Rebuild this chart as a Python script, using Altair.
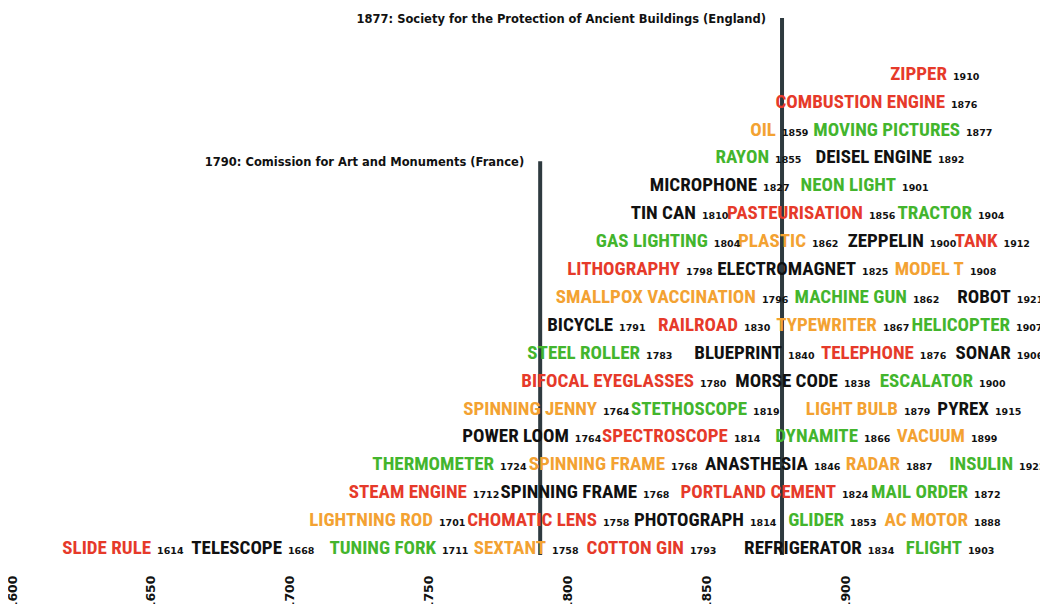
import altair as alt
import pandas as pd

# ---- data ----
# row: stacking level (0 = bottom); slot: x-scale position (years) of the gap between name and date
names = [
    "SLIDE RULE", "TELESCOPE", "TUNING FORK", "SEXTANT", "COTTON GIN", "REFRIGERATOR", "FLIGHT",
    "LIGHTNING ROD", "CHOMATIC LENS", "PHOTOGRAPH", "GLIDER", "AC MOTOR",
    "STEAM ENGINE", "SPINNING FRAME", "PORTLAND CEMENT", "MAIL ORDER",
    "THERMOMETER", "SPINNING FRAME", "ANASTHESIA", "RADAR", "INSULIN",
    "POWER LOOM", "SPECTROSCOPE", "DYNAMITE", "VACUUM",
    "SPINNING JENNY", "STETHOSCOPE", "LIGHT BULB", "PYREX",
    "BIFOCAL EYEGLASSES", "MORSE CODE", "ESCALATOR",
    "STEEL ROLLER", "BLUEPRINT", "TELEPHONE", "SONAR",
    "BICYCLE", "RAILROAD", "TYPEWRITER", "HELICOPTER",
    "SMALLPOX VACCINATION", "MACHINE GUN", "ROBOT",
    "LITHOGRAPHY", "ELECTROMAGNET", "MODEL T",
    "GAS LIGHTING", "PLASTIC", "ZEPPELIN", "TANK",
    "TIN CAN", "PASTEURISATION", "TRACTOR",
    "MICROPHONE", "NEON LIGHT",
    "RAYON", "DEISEL ENGINE",
    "OIL", "MOVING PICTURES",
    "COMBUSTION ENGINE",
    "ZIPPER",
]
years = [
    1614, 1668, 1711, 1758, 1793, 1834, 1903,
    1701, 1758, 1814, 1853, 1888,
    1712, 1768, 1824, 1872,
    1724, 1768, 1846, 1887, 1922,
    1764, 1814, 1866, 1899,
    1764, 1819, 1879, 1915,
    1780, 1838, 1900,
    1783, 1840, 1876, 1906,
    1791, 1830, 1867, 1907,
    1796, 1862, 1921,
    1798, 1825, 1908,
    1804, 1862, 1900, 1912,
    1810, 1856, 1904,
    1827, 1901,
    1855, 1892,
    1859, 1877,
    1876,
    1910,
]
rows = [
    0, 0, 0, 0, 0, 0, 0,
    1, 1, 1, 1, 1,
    2, 2, 2, 2,
    3, 3, 3, 3, 3,
    4, 4, 4, 4,
    5, 5, 5, 5,
    6, 6, 6,
    7, 7, 7, 7,
    8, 8, 8, 8,
    9, 9, 9,
    10, 10, 10,
    11, 11, 11, 11,
    12, 12, 12,
    13, 13,
    14, 14,
    15, 15,
    16,
    17,
]
kinds = [
    "red", "black", "green", "orange", "red", "black", "green",
    "orange", "red", "black", "green", "orange",
    "red", "black", "red", "green",
    "green", "orange", "black", "orange", "green",
    "black", "red", "green", "orange",
    "orange", "green", "orange", "black",
    "red", "black", "green",
    "green", "black", "red", "black",
    "black", "red", "orange", "green",
    "orange", "green", "black",
    "red", "black", "orange",
    "green", "orange", "black", "red",
    "black", "red", "green",
    "black", "green",
    "green", "black",
    "orange", "green",
    "red",
    "red",
]
slots = [
    1651.1, 1698.2, 1753.6, 1793.2, 1842.8, 1906.8, 1942.8,
    1752.5, 1811.5, 1864.4, 1900.4, 1945.0,
    1764.7, 1825.9, 1897.5, 1945.0,
    1774.5, 1836.0, 1887.4, 1920.5, 1961.2,
    1801.4, 1858.6, 1905.4, 1943.9,
    1811.5, 1865.5, 1919.8, 1952.5,
    1846.4, 1898.2, 1946.8,
    1827.0, 1878.1, 1925.5, 1960.4,
    1817.3, 1862.2, 1912.2, 1960.1,
    1868.7, 1923.0, 1960.4,
    1841.4, 1904.7, 1943.5,
    1851.4, 1886.7, 1929.1, 1955.6,
    1847.1, 1907.2, 1946.4,
    1869.1, 1919.1,
    1873.4, 1932.0,
    1875.9, 1942.1,
    1936.7,
    1937.4,
]

event_years = [1790, 1877]
event_labels = [
    "1790: Comission for Art and Monuments (France)",
    "1877: Society for the Protection of Ancient Buildings (England)",
]
event_top = [13.83, 18.96]
event_bottom = [-0.29, -0.29]

tick_years = [1600, 1650, 1700, 1750, 1800, 1850, 1900]

kind_names = ["red", "orange", "green", "black"]
kind_colors = ["#e63a2a", "#f3a232", "#43b52d", "#111111"]

# ---- tables ----
df = pd.DataFrame({"name": names, "year": [str(y) for y in years], "row": rows,
                   "kind": kinds, "slot": slots})
ev = pd.DataFrame({"slot": event_years, "row": event_top, "row2": event_bottom,
                   "label": event_labels})

xs = alt.Scale(domain=[1600, 1969.8], nice=False, zero=False)
ys = alt.Scale(domain=[-0.896, 19.32], nice=False, zero=False)
xaxis = alt.Axis(values=tick_years, format="d", labelAngle=270, ticks=False, domain=False,
                 grid=False, title=None, labelFont="DejaVu Sans", labelFontSize=12.5,
                 labelFontWeight="bold", labelColor="#111111", labelPadding=3,
                 labelFlush=False, labelOverlap=False)
x_enc = alt.X("slot:Q", scale=xs, axis=xaxis)
y_enc = alt.Y("row:Q", scale=ys, axis=None)
color_enc = alt.Color("kind:N", scale=alt.Scale(domain=kind_names, range=kind_colors), legend=None)

base = alt.Chart(df)

name_layer = base.mark_text(
    align="right", baseline="alphabetic", dx=-3, dy=7,
    font="Roboto Condensed, Noto Sans Condensed, DejaVu Sans Condensed, sans-serif",
    fontSize=19, fontWeight="bold"
).encode(x=x_enc, y=y_enc, text="name:N", color=color_enc)

year_layer = base.mark_text(
    align="left", baseline="alphabetic", dx=3, dy=7,
    font="DejaVu Sans", fontSize=9.5, fontWeight="bold", color="#111111"
).encode(x=x_enc, y=y_enc, text="year:N")

rule_layer = alt.Chart(ev).mark_rule(color="#2e3a3f", strokeWidth=4).encode(
    x=x_enc, y=y_enc, y2="row2:Q")

ev_text = alt.Chart(ev).mark_text(
    align="right", baseline="middle", dx=-16, dy=2,
    font="DejaVu Sans", fontSize=11.5, fontWeight="bold", color="#111111"
).encode(x=x_enc, y=y_enc, text="label:N")

chart = alt.layer(rule_layer, name_layer, year_layer, ev_text).properties(
    width=1028, height=564,
    autosize=alt.AutoSizeParams(type="none"),
    padding={"left": 4, "top": 0, "right": 0, "bottom": 32},
    background="white",
).configure_view(stroke=None)

chart.save("out.html", embed_options={"renderer": "svg", "actions": False})
